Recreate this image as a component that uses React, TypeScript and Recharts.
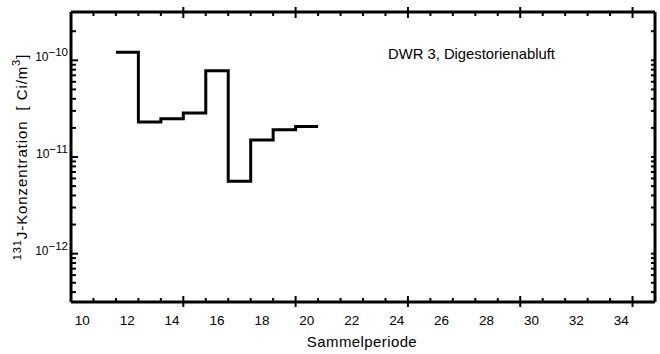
import { LineChart, Line, XAxis, YAxis } from "recharts";

// Sammelperioden und gemessene J-131-Konzentration (Ci/m3)
const periods = [12, 13, 14, 15, 16, 17, 18, 19, 20];
const concentration = [
  1.21e-10, 2.3e-11, 2.49e-11, 2.85e-11, 7.8e-11, 5.6e-12, 1.5e-11, 1.91e-11, 2.07e-11,
];

const xLabels = [10, 12, 14, 16, 18, 20, 22, 24, 26, 28, 30, 32, 34];
const xMarks = [
  10.5, 11.5, 12.5, 13.5, 14.5, 15.5, 16.5, 17.5, 18.5, 19.5, 20.5, 21.5, 22.5,
  23.5, 24.5, 25.5, 26.5, 27.5, 28.5, 29.5, 30.5, 31.5, 32.5, 33.5, 34.5,
];
const xMajorMarks = [14.5, 19.5, 24.5, 29.5, 34.5];
const yDecades = [1e-12, 1e-11, 1e-10];
const yMinor = [
  4e-13, 5e-13, 6e-13, 7e-13, 8e-13, 9e-13,
  2e-12, 3e-12, 4e-12, 5e-12, 6e-12, 7e-12, 8e-12, 9e-12,
  2e-11, 3e-11, 4e-11, 5e-11, 6e-11, 7e-11, 8e-11, 9e-11,
  2e-10,
];

// each period is drawn as a flat step from p-0.5 to p+0.5
const stepData = [
  ...periods.map((p, i) => ({ x: p - 0.5, c: concentration[i] })),
  { x: periods[periods.length - 1] + 0.5, c: concentration[concentration.length - 1] },
];

const yTicks = [...yMinor, ...yDecades].sort((a, b) => a - b);
const xTicks = [...xLabels, ...xMarks].sort((a, b) => a - b);
const yDomain = [Math.pow(10, -12.5), Math.pow(10, -9.5)];

const FONT = '"Liberation Sans", Arial, sans-serif';
const isDecade = (v: number) => yDecades.some((d) => Math.abs(d - v) / d < 1e-6);

// eslint-disable-next-line @typescript-eslint/no-explicit-any
const LeftTick = ({ x, y, payload }: any) => {
  const v = payload.value;
  const dec = isDecade(v);
  const exp = Math.round(Math.log10(v));
  return (
    <g>
      <line x1={x} x2={x + (dec ? 7 : 5)} y1={y} y2={y} stroke="#000" strokeWidth={2} />
      {dec && (
        <text x={x - 3} y={y + 1} textAnchor="end" fontSize={12} fontFamily={FONT} fill="#000">
          10
          <tspan dy={-5} fontSize={11.5}>{`\u2212${-exp}`}</tspan>
        </text>
      )}
    </g>
  );
};

// eslint-disable-next-line @typescript-eslint/no-explicit-any
const RightTick = ({ x, y }: any) => (
  <line x1={x} x2={x - 4} y1={y} y2={y} stroke="#000" strokeWidth={2} />
);

// eslint-disable-next-line @typescript-eslint/no-explicit-any
const BottomTick = ({ x, y, payload }: any) => {
  const v = payload.value;
  if (Number.isInteger(v)) {
    return (
      <text x={x} y={y + 23} textAnchor="middle" fontSize={13.5} fontFamily={FONT} fill="#000">
        {v}
      </text>
    );
  }
  const major = xMajorMarks.includes(v);
  return (
    <line x1={x} x2={x} y1={major ? y + 5 : y} y2={y - (major ? 6 : 4)} stroke="#000" strokeWidth={2} />
  );
};

// eslint-disable-next-line @typescript-eslint/no-explicit-any
const TopTick = ({ x, y, payload }: any) => {
  const major = xMajorMarks.includes(payload.value);
  return (
    <line x1={x} x2={x} y1={major ? y - 5 : y} y2={y + (major ? 6 : 4)} stroke="#000" strokeWidth={2} />
  );
};

const axisLine = { stroke: "#000", strokeWidth: 3 };

export default function App() {
  return (
    <div style={{ position: "absolute", left: 0, top: 0, width: 660, height: 354, background: "#fff" }}>
      <LineChart
        width={660}
        height={354}
        data={stepData}
        margin={{ top: 11, right: 4, bottom: 51, left: 70 }}
      >
        <XAxis
          xAxisId="b"
          dataKey="x"
          type="number"
          domain={[9.5, 35.5]}
          allowDataOverflow
          ticks={xTicks}
          interval={0}
          height={1}
          tickSize={0}
          tickMargin={0}
          tickLine={false}
          axisLine={axisLine}
          tick={<BottomTick />}
        />
        <XAxis
          xAxisId="t"
          orientation="top"
          dataKey="x"
          type="number"
          domain={[9.5, 35.5]}
          allowDataOverflow
          ticks={xMarks}
          interval={0}
          height={1}
          tickSize={0}
          tickMargin={0}
          tickLine={false}
          axisLine={axisLine}
          tick={<TopTick />}
        />
        <YAxis
          yAxisId="l"
          type="number"
          scale="log"
          domain={yDomain}
          allowDataOverflow
          ticks={yTicks}
          interval={0}
          width={1}
          tickSize={0}
          tickMargin={0}
          tickLine={false}
          axisLine={axisLine}
          tick={<LeftTick />}
        />
        <YAxis
          yAxisId="r"
          orientation="right"
          type="number"
          scale="log"
          domain={yDomain}
          allowDataOverflow
          ticks={yTicks}
          interval={0}
          width={1}
          tickSize={0}
          tickMargin={0}
          tickLine={false}
          axisLine={axisLine}
          tick={<RightTick />}
        />
        <Line
          xAxisId="b"
          yAxisId="l"
          dataKey="c"
          type="stepAfter"
          stroke="#000"
          strokeWidth={3}
          dot={false}
          isAnimationActive={false}
        />
      </LineChart>

      <svg
        width={660}
        height={354}
        style={{ position: "absolute", left: 0, top: 0, pointerEvents: "none" }}
        fontFamily={FONT}
        fill="#000"
      >
        <text x={388} y={59} fontSize={14.8}>
          DWR 3, Digestorienabluft
        </text>
        <text x={362} y={347} fontSize={15} textAnchor="middle" letterSpacing={0.4}>
          Sammelperiode
        </text>
        <text
          transform="translate(27,157) rotate(-90)"
          textAnchor="middle"
          fontSize={15}
          letterSpacing={0.9}
          style={{ whiteSpace: "pre" }}
        >
          <tspan fontSize={11} dy={-6}>131</tspan>
          <tspan dy={6}>J-Konzentration  [ Ci/m</tspan>
          <tspan fontSize={11} dy={-7}>3</tspan>
          <tspan dy={7}>]</tspan>
        </text>
      </svg>
    </div>
  );
}
